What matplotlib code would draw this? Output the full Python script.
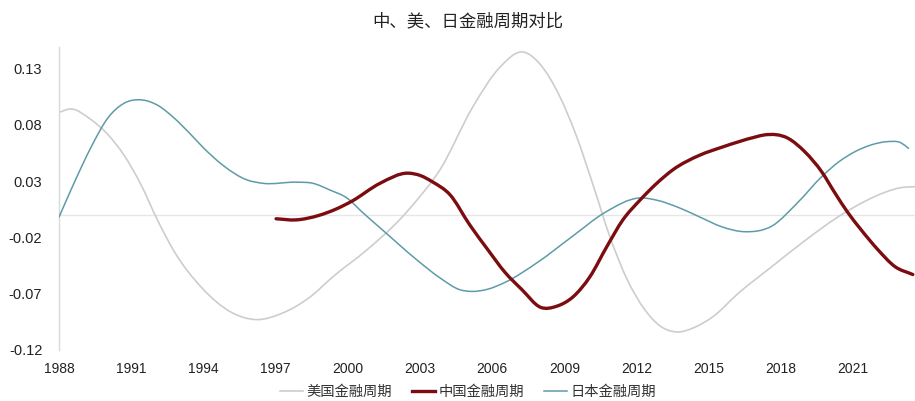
import matplotlib
matplotlib.use("Agg")
import matplotlib.pyplot as plt
from matplotlib.path import Path
from matplotlib.patches import PathPatch
from matplotlib.lines import Line2D

plt.rcParams['font.family'] = ['Liberation Sans', 'Noto Sans CJK SC', 'DejaVu Sans']

title = "中、美、日金融周期对比"
series_names = ["美国金融周期", "中国金融周期", "日本金融周期"]

us_x = [1988.00, 1988.50, 1989.30, 1990.00, 1990.70, 1991.40, 1992.10, 1992.80, 1993.90, 1995.20,
        1996.20, 1997.31, 1998.43, 1999.38, 2000.80, 2002.17, 2002.87, 2003.83, 2005.20, 2006.32,
        2007.28, 2007.98, 2008.81, 2009.50, 2010.20, 2010.90, 2011.60, 2012.30, 2013.00, 2013.70,
        2014.40, 2015.20, 2016.21, 2017.62, 2018.99, 2020.36, 2021.49, 2022.32, 2022.95, 2023.57]
us_y = [0.091, 0.094, 0.085, 0.072, 0.053, 0.027, -0.005, -0.033, -0.064, -0.087,
        -0.093, -0.087, -0.073, -0.055, -0.031, -0.004, 0.013, 0.040, 0.096, 0.131,
        0.1446, 0.134, 0.105, 0.070, 0.026, -0.020, -0.057, -0.083, -0.099, -0.104,
        -0.100, -0.090, -0.070, -0.046, -0.023, -0.002, 0.012, 0.020, 0.024, 0.025]

cn_x = [1997.02, 1997.85, 1998.80, 1999.50, 2000.16, 2001.34, 2002.50, 2003.00, 2003.54, 2004.24,
        2005.07, 2005.82, 2006.53, 2007.24, 2008.00, 2008.70, 2009.35, 2010.06, 2010.77, 2011.43,
        2012.14, 2012.84, 2013.51, 2014.63, 2015.54, 2016.92, 2017.33, 2018.29, 2018.99, 2019.70,
        2020.24, 2020.78, 2021.32, 2022.03, 2022.74, 2023.48]
cn_y = [-0.0035, -0.0045, -0.0005, 0.005, 0.012, 0.028, 0.037, 0.035, 0.029, 0.018,
        -0.009, -0.031, -0.051, -0.0665, -0.082, -0.081, -0.073, -0.055, -0.028, -0.0045,
        0.013, 0.028, 0.040, 0.053, 0.060, 0.069, 0.071, 0.068, 0.056, 0.038,
        0.0195, 0.002, -0.013, -0.031, -0.046, -0.053]

jp_x = [1988.00, 1988.62, 1989.33, 1990.03, 1990.70, 1991.45, 1992.12, 1992.78, 1993.49, 1993.98,
        1994.81, 1995.81, 1996.47, 1997.88, 1998.55, 1999.26, 1999.96, 2000.63, 2001.34, 2002.87,
        2003.83, 2004.66, 2005.16, 2005.82, 2006.53, 2007.90, 2009.31, 2010.68, 2012.14, 2012.84,
        2013.80, 2014.63, 2015.54, 2016.50, 2017.62, 2018.70, 2019.70, 2020.40, 2021.07, 2021.74,
        2022.44, 2022.98, 2023.30]
jp_y = [-0.002, 0.028, 0.060, 0.086, 0.099, 0.102, 0.097, 0.086, 0.071, 0.060,
        0.044, 0.031, 0.028, 0.029, 0.028, 0.022, 0.015, 0.0018, -0.0115, -0.040,
        -0.056, -0.0665, -0.068, -0.066, -0.060, -0.042, -0.0195, 0.002, 0.015, 0.013,
        0.006, -0.002, -0.0106, -0.015, -0.010, 0.011, 0.034, 0.047, 0.056, 0.062,
        0.065, 0.064, 0.059]

x_ticks = [1988, 1991, 1994, 1997, 2000, 2003, 2006, 2009, 2012, 2015, 2018, 2021]
y_ticks = [0.13, 0.08, 0.03, -0.02, -0.07, -0.12]

c_us = "#cdcdcd"
c_cn = "#7b0c10"
c_jp = "#5e9ba9"


def smooth_path(xs, ys):
    """Smoothed line style: cubic Bezier (Hermite) segments through the data points."""
    n = len(xs)
    h = [xs[i + 1] - xs[i] for i in range(n - 1)]
    d = [(ys[i + 1] - ys[i]) / h[i] for i in range(n - 1)]
    m = [d[0]]
    for i in range(1, n - 1):
        m.append((d[i - 1] * h[i] + d[i] * h[i - 1]) / (h[i - 1] + h[i]))
    m.append(d[-1])
    verts = [(xs[0], ys[0])]
    codes = [Path.MOVETO]
    for i in range(n - 1):
        c1 = (xs[i] + h[i] / 3.0, ys[i] + m[i] * h[i] / 3.0)
        c2 = (xs[i + 1] - h[i] / 3.0, ys[i + 1] - m[i + 1] * h[i] / 3.0)
        verts += [c1, c2, (xs[i + 1], ys[i + 1])]
        codes += [Path.CURVE4, Path.CURVE4, Path.CURVE4]
    return Path(verts, codes)


fig = plt.figure(figsize=(9.15, 4.01), dpi=100)
ax = fig.add_axes([0.0645, 0.1272, 0.9355, 0.7556])

ax.axhline(0, color="#e6e6e6", lw=1.0, zorder=1)
for xs, ys, col, lw, z in [(us_x, us_y, c_us, 1.2, 2), (jp_x, jp_y, c_jp, 1.1, 3), (cn_x, cn_y, c_cn, 2.4, 4)]:
    ax.add_patch(PathPatch(smooth_path(xs, ys), facecolor="none", edgecolor=col, lw=lw,
                           zorder=z, capstyle="round", joinstyle="round"))

ax.set_xlim(1988, 2023.57)
ax.set_ylim(-0.12, 0.149)
ax.set_xticks(x_ticks)
ax.set_xticklabels([str(t) for t in x_ticks])
ax.set_yticks(y_ticks)
ax.set_yticklabels([f"{t:.2f}" for t in y_ticks])
ax.tick_params(axis='both', length=0, colors="#222222")
ax.tick_params(axis='x', pad=9, labelsize=10)
ax.tick_params(axis='y', pad=12, labelsize=10.5)

for s in ["top", "right", "bottom"]:
    ax.spines[s].set_visible(False)
ax.spines["left"].set_color("#d9d9d9")
ax.spines["left"].set_linewidth(1.0)

fig.text(0.511, 0.946, title, ha="center", va="center", fontsize=12.5, color="#222222",
         family=['Noto Sans CJK SC', 'DejaVu Sans'])

handles = [Line2D([], [], color=c_us, lw=1.2),
           Line2D([], [], color=c_cn, lw=2.4),
           Line2D([], [], color=c_jp, lw=1.1)]
leg = fig.legend(handles, series_names, loc="center", bbox_to_anchor=(0.5115, 0.022), ncol=3,
                 frameon=False, prop={'family': ['Noto Sans CJK SC', 'DejaVu Sans'], 'size': 10.3},
                 handlelength=1.55, handletextpad=0.25, columnspacing=1.45)
for t in leg.get_texts():
    t.set_color("#333333")

fig.savefig("out.png", dpi=100)
